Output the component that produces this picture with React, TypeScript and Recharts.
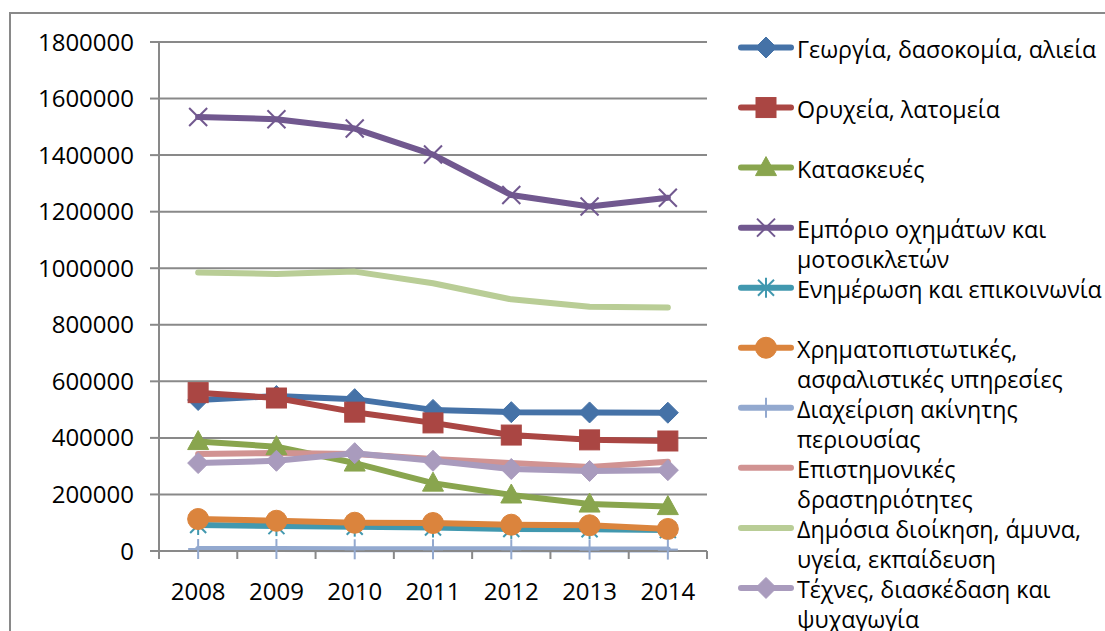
import React from 'react';
import { LineChart, Line, XAxis, YAxis, CartesianGrid } from 'recharts';

const years = ['2008', '2009', '2010', '2011', '2012', '2013', '2014'];
const agriculture = [534000, 548000, 537000, 499000, 491000, 490000, 489000];
const mining = [560000, 541000, 491000, 453000, 410000, 393000, 389000];
const construction = [387000, 369000, 311000, 240000, 198000, 166000, 157000];
const vehicleTrade = [1535000, 1527000, 1494000, 1402000, 1259000, 1218000, 1249000];
const information = [92000, 88000, 86000, 83000, 78000, 77000, 74000];
const finance = [113000, 107000, 100000, 99000, 93000, 91000, 78000];
const realEstate = [7000, 7000, 6000, 6000, 6000, 5000, 5000];
const scientific = [343000, 347000, 343000, 325000, 311000, 297000, 316000];
const publicAdmin = [985000, 980000, 988000, 947000, 890000, 864000, 861000];
const arts = [311000, 319000, 346000, 319000, 290000, 283000, 286000];
const yTicks = [0, 200000, 400000, 600000, 800000, 1000000, 1200000, 1400000, 1600000, 1800000];

const seriesNames = [
  ['Γεωργία, δασοκομία, αλιεία'],
  ['Ορυχεία, λατομεία'],
  ['Κατασκευές'],
  ['Εμπόριο οχημάτων και', 'μοτοσικλετών'],
  ['Ενημέρωση και επικοινωνία'],
  ['Χρηματοπιστωτικές,', 'ασφαλιστικές υπηρεσίες'],
  ['Διαχείριση ακίνητης', 'περιουσίας'],
  ['Επιστημονικές', 'δραστηριότητες'],
  ['Δημόσια διοίκηση, άμυνα,', 'υγεία, εκπαίδευση'],
  ['Τέχνες, διασκέδαση και', 'ψυχαγωγία'],
];
const seriesValues = [agriculture, mining, construction, vehicleTrade, information, finance, realEstate, scientific, publicAdmin, arts];
const seriesColors = ['#4572A7', '#AA4643', '#89A54E', '#71588F', '#4198AF', '#DB843D', '#93A9CF', '#D19392', '#B9CD96', '#A99BBD'];
const seriesMarkers = ['diamond', 'square', 'triangle', 'x', 'star', 'circle', 'plus', 'none', 'none', 'diamond'];

const data = years.map((year, i) => {
  const row: Record<string, any> = { year };
  seriesValues.forEach((vals, s) => {
    row['s' + s] = vals[i];
  });
  return row;
});

const W = 1105;
const H = 631;
const PLOT_LEFT = 159;
const PLOT_RIGHT = 707;
const PLOT_TOP = 42;
const PLOT_BOTTOM = 551;
const BAND = (PLOT_RIGHT - PLOT_LEFT) / years.length;
const AXIS = '#898989';
const FONT = "'Open Sans', 'Noto Sans', sans-serif";

function Marker({ type, cx, cy, color }: { type: string; cx: number; cy: number; color: string }) {
  if (cx == null || cy == null) return null;
  switch (type) {
    case 'diamond':
      return <polygon points={`${cx},${cy - 10.5} ${cx + 10.5},${cy} ${cx},${cy + 10.5} ${cx - 10.5},${cy}`} fill={color} stroke={color} strokeWidth={1} />;
    case 'square':
      return <rect x={cx - 10} y={cy - 10} width={20} height={20} fill={color} stroke={color} strokeWidth={1} />;
    case 'triangle':
      return <polygon points={`${cx},${cy - 11} ${cx + 10.5},${cy + 8} ${cx - 10.5},${cy + 8}`} fill={color} stroke={color} strokeWidth={1} />;
    case 'circle':
      return <circle cx={cx} cy={cy} r={10.5} fill={color} stroke={color} strokeWidth={1} />;
    case 'x':
      return (
        <g stroke={color} strokeWidth={2}>
          <line x1={cx - 9} y1={cy - 9} x2={cx + 9} y2={cy + 9} />
          <line x1={cx - 9} y1={cy + 9} x2={cx + 9} y2={cy - 9} />
        </g>
      );
    case 'star':
      return (
        <g stroke={color} strokeWidth={2}>
          <line x1={cx - 8} y1={cy - 8} x2={cx + 8} y2={cy + 8} />
          <line x1={cx - 8} y1={cy + 8} x2={cx + 8} y2={cy - 8} />
          <line x1={cx} y1={cy - 10} x2={cx} y2={cy + 10} />
        </g>
      );
    case 'plus':
      return (
        <g stroke={color} strokeWidth={2}>
          <line x1={cx - 10} y1={cy} x2={cx + 10} y2={cy} />
          <line x1={cx} y1={cy - 10} x2={cx} y2={cy + 10} />
        </g>
      );
    default:
      return null;
  }
}

const XTick = (props: any) => {
  const { x, y, payload, index } = props;
  const half = BAND / 2;
  return (
    <g>
      <line x1={x - half} x2={x - half} y1={y} y2={y + 8} stroke={AXIS} strokeWidth={2} />
      {index === years.length - 1 && <line x1={x + half} x2={x + half} y1={y} y2={y + 8} stroke={AXIS} strokeWidth={2} />}
      <text x={x} y={y + 49} textAnchor="middle" fill="#000" fontSize={24} fontFamily={FONT}>
        {payload.value}
      </text>
    </g>
  );
};

function LegendOverlay() {
  return (
    <svg width={W} height={H} style={{ position: 'absolute', left: 0, top: 0, pointerEvents: 'none' }}>
      {seriesNames.map((lines, i) => {
        const y0 = 47.5 + i * 60.05;
        const color = seriesColors[i];
        return (
          <g key={i}>
            <line x1={741} x2={791} y1={y0} y2={y0} stroke={color} strokeWidth={6} strokeLinecap="round" />
            <Marker type={seriesMarkers[i]} cx={766} cy={y0} color={color} />
            {lines.map((ln, j) => (
              <text key={j} x={797} y={y0 + 10 + j * 30} fontSize={23.2} fontFamily={FONT} fill="#000">
                {ln}
              </text>
            ))}
          </g>
        );
      })}
    </svg>
  );
}

export default function App() {
  return (
    <div style={{ position: 'absolute', left: 0, top: 0, width: W, height: H, overflow: 'hidden', background: '#fff' }}>
      <div style={{ position: 'absolute', left: 9, top: 12, width: 1300, height: 900, border: `2px solid ${AXIS}`, boxSizing: 'border-box' }} />
      <div style={{ position: 'absolute', left: 0, top: 0 }}>
        <LineChart
          width={W}
          height={H}
          data={data}
          margin={{ top: PLOT_TOP, right: W - PLOT_RIGHT, bottom: 0, left: 0 }}
        >
          <CartesianGrid vertical={false} stroke={AXIS} strokeWidth={2} />
          <XAxis
            dataKey="year"
            interval={0}
            height={H - PLOT_BOTTOM}
            padding={{ left: BAND / 2, right: BAND / 2 }}
            tickLine={false}
            tickSize={0}
            tickMargin={0}
            axisLine={{ stroke: AXIS, strokeWidth: 2 }}
            tick={<XTick />}
          />
          <YAxis
            domain={[0, 1800000]}
            ticks={yTicks}
            interval={0}
            width={PLOT_LEFT}
            tickSize={9}
            tickMargin={16}
            axisLine={{ stroke: AXIS, strokeWidth: 2 }}
            tickLine={{ stroke: AXIS, strokeWidth: 2 }}
            tick={{ fill: '#000', fontSize: 24, fontFamily: FONT }}
          />
          {seriesValues.map((_, s) => (
            <Line
              key={s}
              dataKey={'s' + s}
              stroke={seriesColors[s]}
              strokeWidth={6}
              strokeLinejoin="round"
              strokeLinecap="round"
              isAnimationActive={false}
              dot={(p: any) => <Marker key={`m${s}-${p.index}`} type={seriesMarkers[s]} cx={p.cx} cy={p.cy} color={seriesColors[s]} />}
              activeDot={false}
            />
          ))}
        </LineChart>
      </div>
      <LegendOverlay />
    </div>
  );
}
